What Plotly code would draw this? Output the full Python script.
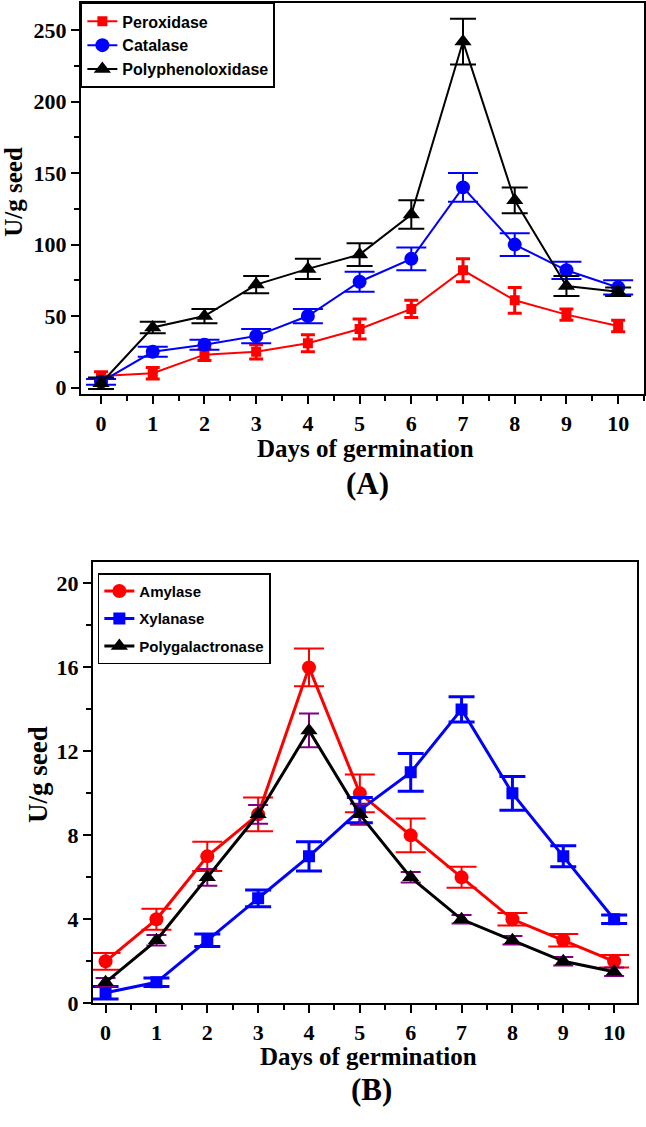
import plotly.graph_objects as go

days = [0, 1, 2, 3, 4, 5, 6, 7, 8, 9, 10]

# Panel A
peroxidase = [8, 10, 23, 25, 31, 41, 55, 82, 61, 51, 43]
peroxidase_err = [3, 4, 4, 5, 6, 7, 6, 8, 9, 4, 4]
catalase = [4, 25, 30, 36, 50, 74, 90, 140, 100, 82, 70]
catalase_err = [2, 3.5, 3.5, 5, 5, 7, 8, 10, 8, 6, 5]
polyphenol = [3, 42, 50, 72, 83, 93, 121, 242, 131, 71, 67]
polyphenol_err = [4, 4, 5, 6, 7, 8, 10, 16, 9, 7, 3]

# Panel B
amylase = [2, 4, 7, 9, 16, 10, 8, 6, 4, 3, 2]
amylase_err = [0.4, 0.5, 0.7, 0.8, 0.9, 0.9, 0.8, 0.5, 0.3, 0.3, 0.3]
xylanase = [0.5, 1, 3, 5, 7, 9.2, 11, 14, 10, 7, 4]
xylanase_err = [0.3, 0.2, 0.3, 0.4, 0.7, 0.6, 0.9, 0.6, 0.8, 0.5, 0.2]
polygal = [1, 3, 6, 9, 13, 9, 6, 4, 3, 2, 1.5]
polygal_err = [0.2, 0.25, 0.4, 0.45, 0.8, 0.5, 0.25, 0.2, 0.2, 0.2, 0.2]

yticks_a = [0, 50, 100, 150, 200, 250]
yticks_b = [0, 4, 8, 12, 16, 20]

W, H = 646, 1127
fig = go.Figure()

def add(x, y, err, name, color, symbol, msize, lw, ecolor, ewidth, ethick, xa, ya, legend, group):
    fig.add_trace(go.Scatter(
        x=x, y=y, name=name, mode="lines+markers",
        line=dict(color=color, width=lw),
        marker=dict(color=color, symbol=symbol, size=msize),
        error_y=dict(type="data", array=err, visible=True, color=ecolor,
                     thickness=ethick, width=ewidth),
        xaxis=xa, yaxis=ya, legend=legend, legendgroup=group))

add(days, peroxidase, peroxidase_err, "Peroxidase", "#ff0000", "square", 10, 2, "#ff0000", 7, 3, "x", "y", "legend", "a1")
add(days, catalase, catalase_err, "Catalase", "#0000ff", "circle", 14, 2, "#0000ff", 15, 2, "x", "y", "legend", "a2")
add(days, polyphenol, polyphenol_err, "Polyphenoloxidase", "#000000", "triangle-up", 15, 2, "#000000", 13, 2, "x", "y", "legend", "a3")

add(days, amylase, amylase_err, "Amylase", "#ff0000", "circle", 14, 3, "#ff0000", 15, 2, "x2", "y2", "legend2", "b1")
add(days, xylanase, xylanase_err, "Xylanase", "#0000ff", "square", 12, 3, "#0000ff", 13, 3, "x2", "y2", "legend2", "b2")
add(days, polygal, polygal_err, "Polygalactronase", "#000000", "triangle-up", 15, 3, "#800080", 10, 2, "x2", "y2", "legend2", "b3")

tickfont = dict(family="Liberation Serif", size=22, color="black", weight="bold")
axcommon = dict(showline=True, linewidth=2, linecolor="black", mirror=True,
                ticks="outside", ticklen=8, tickwidth=1.5, tickcolor="black",
                showgrid=False, zeroline=False, tickfont=tickfont)

def minor(d):
    return dict(dtick=d, tick0=0, ticks="outside", ticklen=5, tickwidth=1.5, tickcolor="black")

fig.update_layout(
    width=W, height=H, autosize=False,
    margin=dict(l=0, r=0, t=0, b=0),
    paper_bgcolor="white", plot_bgcolor="white",
    xaxis=dict(domain=[81/W, 645/W], anchor="y", range=[-0.39, 10.5],
               tickvals=days, minor=minor(0.5), **axcommon),
    yaxis=dict(domain=[1-399/H, 1-3/H], anchor="x", range=[-4.8, 269],
               tickvals=yticks_a, minor=minor(25), **axcommon),
    xaxis2=dict(domain=[93/W, 638/W], anchor="y2", range=[-0.25, 10.45],
                tickvals=days, minor=minor(0.5), **axcommon),
    yaxis2=dict(domain=[1-1015/H, 1-569/H], anchor="x2", range=[0, 21],
                tickvals=yticks_b, minor=minor(2), **axcommon),
    legend=dict(x=81/W, y=1-3/H, xanchor="left", yanchor="top",
                bordercolor="black", borderwidth=1.5, bgcolor="white",
                font=dict(family="Liberation Sans", size=16, color="black", weight="bold"),
                itemwidth=30, tracegroupgap=0),
    legend2=dict(x=98/W, y=1-580/H, xanchor="left", yanchor="top",
                 bordercolor="black", borderwidth=1.5, bgcolor="white",
                 font=dict(family="Liberation Sans", size=15, color="black", weight="bold"),
                 itemwidth=30, tracegroupgap=5),
    showlegend=True,
)

def ann(text, x, y, size, angle=0):
    fig.add_annotation(text=text, x=x/W, y=1-y/H, xref="paper", yref="paper",
                       showarrow=False, textangle=angle, xanchor="center", yanchor="middle",
                       font=dict(family="Liberation Serif", size=size, color="black", weight="bold"))

ann("U/g seed", 14, 194, 25, -90)
ann("Days of germination", 366, 454, 25)
ann("(A)", 368, 489, 31)
ann("U/g seed", 38, 783, 27, -90)
ann("Days of germination", 369, 1069, 25)
ann("(B)", 372, 1102, 31)

fig.write_html("out.html", config={"displayModeBar": False},
               post_script="document.body.style.margin='0';document.body.style.padding='0';")
